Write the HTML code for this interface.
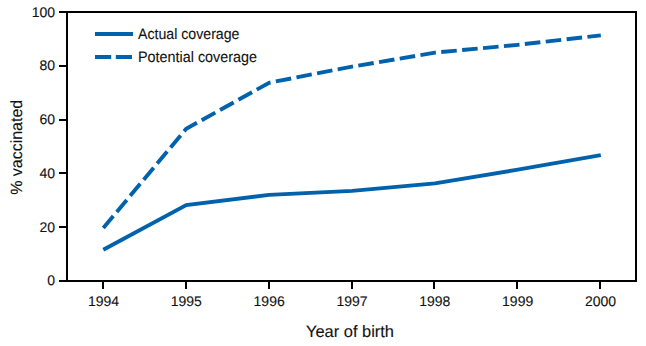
<!DOCTYPE html>
<html><head><meta charset="utf-8"><style>
html,body{margin:0;padding:0;background:#fff;width:646px;height:346px;overflow:hidden}
svg{display:block}
text{font-family:"Liberation Sans",sans-serif;fill:#111;text-rendering:geometricPrecision;stroke:#111;stroke-width:0.1}
</style></head><body>
<svg width="646" height="346" viewBox="0 0 646 346">
<g stroke="#000" stroke-width="2" fill="none" shape-rendering="crispEdges">
<path d="M67,12 H636 V281 H67 Z"/>
<line x1="59" y1="281.00" x2="66" y2="281.00"/><line x1="59" y1="227.20" x2="66" y2="227.20"/><line x1="59" y1="173.40" x2="66" y2="173.40"/><line x1="59" y1="119.60" x2="66" y2="119.60"/><line x1="59" y1="65.80" x2="66" y2="65.80"/><line x1="59" y1="12.00" x2="66" y2="12.00"/>
<line x1="103.00" y1="282" x2="103.00" y2="289"/><line x1="185.83" y1="282" x2="185.83" y2="289"/><line x1="268.67" y1="282" x2="268.67" y2="289"/><line x1="351.50" y1="282" x2="351.50" y2="289"/><line x1="434.33" y1="282" x2="434.33" y2="289"/><line x1="517.17" y1="282" x2="517.17" y2="289"/><line x1="600.00" y1="282" x2="600.00" y2="289"/>
</g>
<g font-size="14">
<text x="55" y="285.30" text-anchor="end">0</text><text x="55" y="231.50" text-anchor="end">20</text><text x="55" y="177.70" text-anchor="end">40</text><text x="55" y="123.90" text-anchor="end">60</text><text x="55" y="70.10" text-anchor="end">80</text><text x="55" y="17.00" text-anchor="end">100</text>
<text x="103.50" y="306" text-anchor="middle">1994</text><text x="186.33" y="306" text-anchor="middle">1995</text><text x="269.17" y="306" text-anchor="middle">1996</text><text x="352.00" y="306" text-anchor="middle">1997</text><text x="434.83" y="306" text-anchor="middle">1998</text><text x="517.67" y="306" text-anchor="middle">1999</text><text x="600.50" y="306" text-anchor="middle">2000</text>
</g>
<polyline points="103.30,249.80 186.22,205.14 269.13,194.92 352.05,190.88 434.97,183.35 517.88,169.63 600.80,155.11" fill="none" stroke="#0061ad" stroke-width="3.9" stroke-linejoin="miter"/>
<polyline points="103.30,228.01 186.22,128.75 269.13,82.75 352.05,66.61 434.97,52.62 517.88,44.82 600.80,35.40" fill="none" stroke="#0061ad" stroke-width="3.9" stroke-dasharray="15.6 5.4" stroke-linejoin="miter"/>
<line x1="95" y1="34" x2="133" y2="34" stroke="#0061ad" stroke-width="4"/>
<line x1="95" y1="57" x2="132" y2="57" stroke="#0061ad" stroke-width="4" stroke-dasharray="16.2 4.6"/>
<text x="138" y="39" font-size="15.2" textLength="101.5" lengthAdjust="spacingAndGlyphs">Actual coverage</text>
<text x="138" y="62" font-size="15.2" textLength="119" lengthAdjust="spacingAndGlyphs">Potential coverage</text>
<text x="306" y="336.8" font-size="16.5" textLength="88" lengthAdjust="spacingAndGlyphs">Year of birth</text>
<text transform="translate(21.8,194.8) rotate(-90)" font-size="16.3" textLength="95" lengthAdjust="spacingAndGlyphs">% vaccinated</text>
</svg>
</body></html>
